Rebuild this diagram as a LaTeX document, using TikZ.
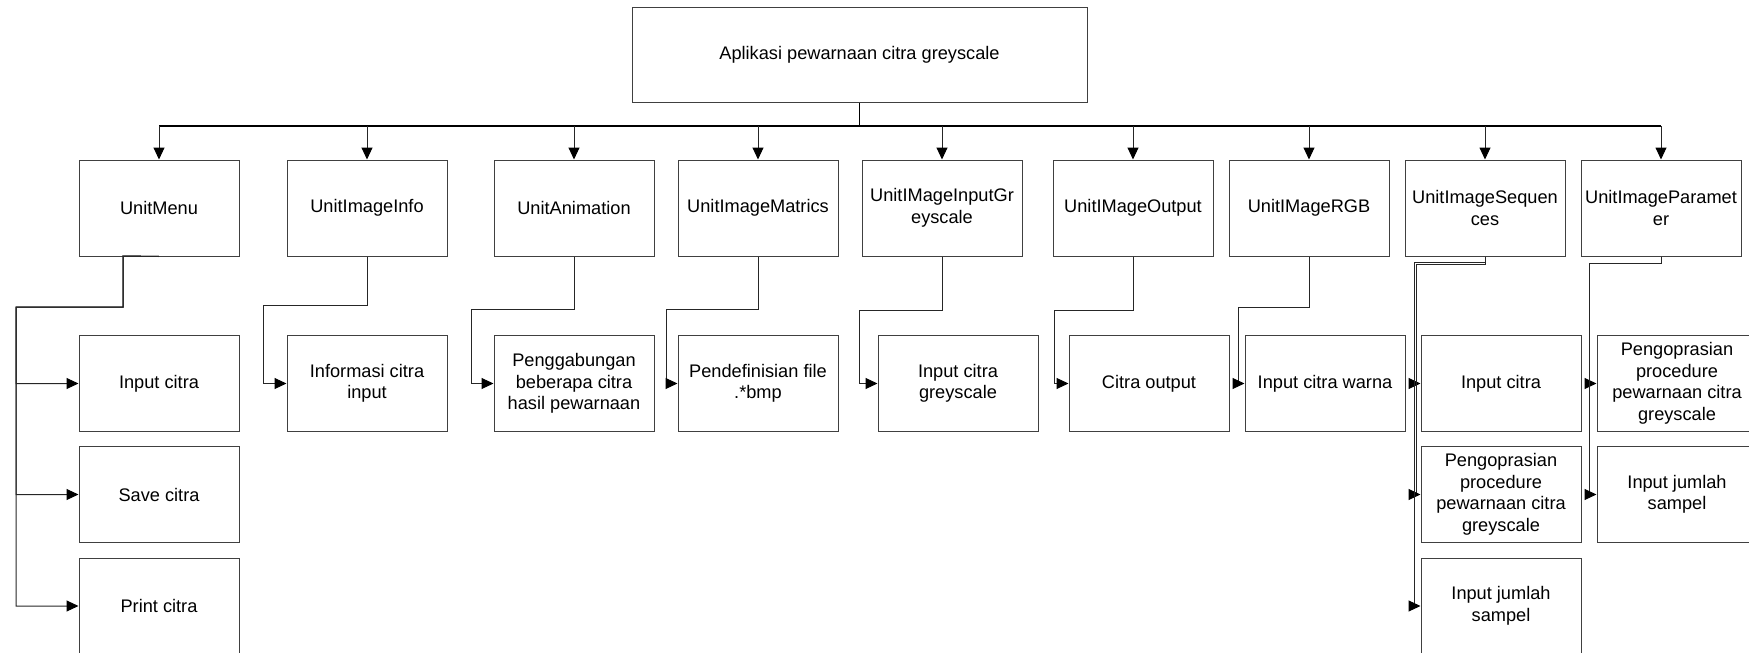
\documentclass[tikz,border=0pt]{standalone}
\usepackage{fontspec}
\setmainfont{Liberation Sans}
\usetikzlibrary{arrows.meta}
\tikzset{
  box/.style={draw=black!75, line width=1pt, minimum width=160pt, minimum height=96pt, inner sep=0pt, align=center, font=\fontsize{18.2}{21.5}\selectfont},
  conn/.style={draw=black!85, line width=1pt, -{Triangle[length=12pt,width=11pt,color=black]}},
  plain/.style={draw=black, line width=1.5pt}
}
\begin{document}
\begin{tikzpicture}[x=1pt,y=-1pt]
\useasboundingbox (0,0) rectangle (1749,653);
% top
\node[box, minimum width=455pt, minimum height=95pt] (top) at (859.5,54.5) {Aplikasi pewarnaan citra greyscale};
% row 1
\node[box] (menu)  at (159,208) {UnitMenu};
\node[box] (info)  at (367,208) {UnitImageInfo};
\node[box] (anim)  at (574,208) {UnitAnimation};
\node[box] (matr)  at (758,208) {UnitImageMatrics};
\node[box] (grey)  at (942,208) {UnitIMageInputGr\\eyscale};
\node[box] (outp)  at (1133,208) {UnitIMageOutput};
\node[box] (rgb)   at (1309,208) {UnitIMageRGB};
\node[box] (seq)   at (1485,208) {UnitImageSequen\\ces};
\node[box] (param) at (1661,208) {UnitImageParamet\\er};
% row 2
\node[box] (m1) at (159,383.5) {Input citra};
\node[box] (i1) at (367,383.5) {Informasi citra\\input};
\node[box] (a1) at (574,383.5) {Penggabungan\\beberapa citra\\hasil pewarnaan};
\node[box] (t1) at (758,383.5) {Pendefinisian file\\.*bmp};
\node[box] (g1) at (958,383.5) {Input citra\\greyscale};
\node[box] (o1) at (1149,383.5) {Citra output};
\node[box] (r1) at (1325,383.5) {Input citra warna};
\node[box] (s1) at (1501,383.5) {Input citra};
\node[box] (p1) at (1677,383.5) {Pengoprasian\\procedure\\pewarnaan citra\\greyscale};
% row 3
\node[box] (m2) at (159,494.5) {Save citra};
\node[box] (s2) at (1501,494.5) {Pengoprasian\\procedure\\pewarnaan citra\\greyscale};
\node[box] (p2) at (1677,494.5) {Input jumlah\\sampel};
% row 4
\node[box] (m3) at (159,606) {Print citra};
\node[box] (s3) at (1501,606) {Input jumlah\\sampel};
% bus
\coordinate (bus) at (0,126);
\draw[plain] (top.south) -- (top.south |- bus);
\draw[plain] (menu.north |- bus) -- (param.north |- bus);
\foreach \n in {menu,info,anim,matr,grey,outp,rgb,seq,param}
  \draw[conn] (\n.north |- bus) -- (\n.north);
% menu
\foreach \c in {m1,m2,m3}
  \draw[conn] (menu.south) -- (123,256) |- (16,307) |- (\c.west);
\draw[conn] (info.south) |- (263,305) |- (i1.west);
\draw[conn] (anim.south) |- (471,309) |- (a1.west);
\draw[conn] (matr.south) |- (666,309) |- (t1.west);
\draw[conn] (grey.south) |- (859,310) |- (g1.west);
\draw[conn] (outp.south) |- (1054,310) |- (o1.west);
\draw[conn] (rgb.south) |- (1238,307) |- (r1.west);
\draw[conn] (seq.south) |- (1414,262) |- (s1.west);
\draw[conn] (seq.south) |- (1416,264) |- (s2.west);
\draw[conn] (seq.south) |- (1414,262) |- (s3.west);
\draw[conn] (param.south) |- (1589,263) |- (p1.west);
\draw[conn] (param.south) |- (1589,263) |- (p2.west);
\end{tikzpicture}
\end{document}
